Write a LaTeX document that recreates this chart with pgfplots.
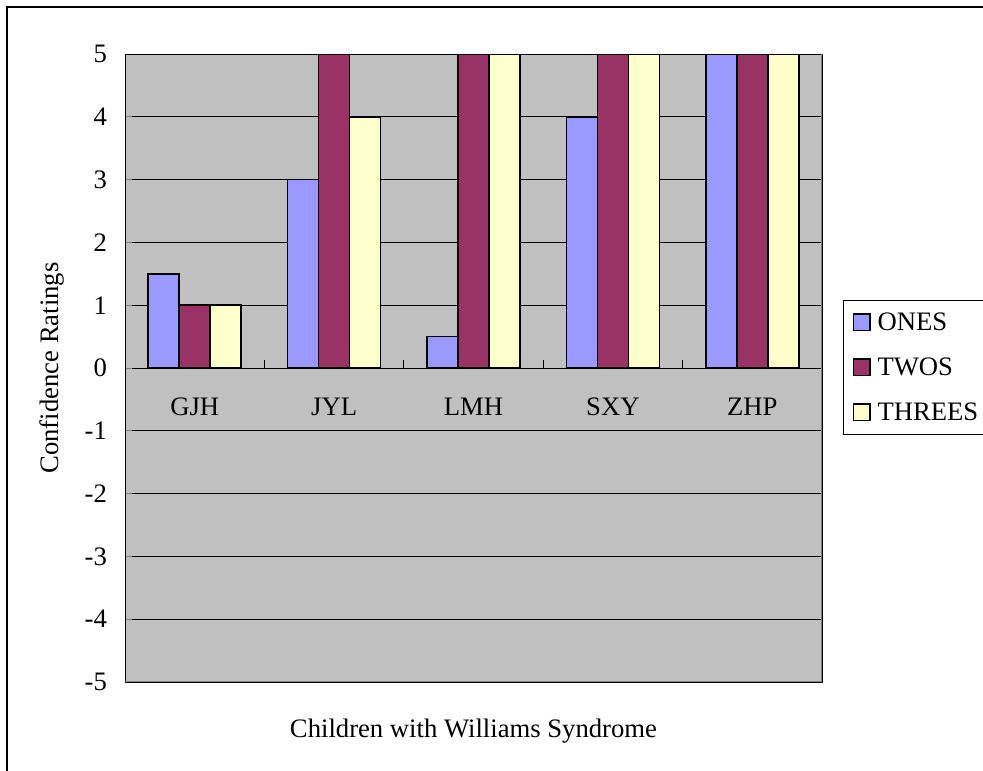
\documentclass[border=0pt]{standalone}
\usepackage{pgfplots}
\pgfplotsset{compat=1.18}
\usepackage{fontspec}
\setmainfont{Liberation Serif}

\definecolor{onesc}{HTML}{9999FF}
\definecolor{twosc}{HTML}{993366}
\definecolor{threesc}{HTML}{FFFFCC}
\definecolor{plotbg}{HTML}{C0C0C0}
\definecolor{edgegray}{HTML}{808080}

\begin{document}
\begin{tikzpicture}
\path[use as bounding box] (-93.75pt,-66.75pt) rectangle (643.5pt,511.5pt);
% outer frame
\draw[black, line width=0.8pt] (-88.5pt,-90pt) rectangle (680pt,506.25pt);
\begin{axis}[
  at={(0,0)}, anchor=south west,
  scale only axis,
  width=522.75pt, height=471pt,
  xmin=-0.5, xmax=4.5,
  ymin=-5, ymax=5,
  ybar=0pt,
  bar width=23.25pt,
  axis background/.style={fill=plotbg},
  axis line style={black, line width=0.6pt},
  font=\fontsize{20}{24}\selectfont,
  xtick={0,1,2,3,4},
  xticklabels={GJH,JYL,LMH,SXY,ZHP},
  xtick style={draw=none},
  xticklabel style={anchor=center, yshift=206.25pt},
  ytick={-5,-4,-3,-2,-1,0,1,2,3,4,5},
  yticklabels={-5,-4,-3,-2,-1,0,1,2,3,4,5},
  ytick pos=left,
  tick align=inside,
  major tick length=5pt,
  ytick style={edgegray, line width=0.6pt},
  yticklabel style={xshift=-10pt},
  ymajorgrids,
  major grid style={black, line width=0.6pt},
  xlabel={Children with Williams Syndrome},
  xlabel style={at={(axis description cs:0.5,-0.078)}, anchor=center},
  ylabel={Confidence Ratings},
  ylabel style={at={(axis description cs:-0.1047,0.5)}, anchor=center},
  legend style={
    at={(axis description cs:1.0301,0.6083)}, anchor=north west,
    draw=black, line width=0.6pt, fill=white,
    font=\fontsize{20}{24}\selectfont,
    row sep=15pt, inner xsep=7pt, inner ysep=7pt,
    legend cell align=left,
  },
  legend image code/.code={
    \draw[#1, draw=black, line width=1.2pt] (0pt,-6.2pt) rectangle (12.5pt,6.2pt);
    \path[draw=none, fill=none] (0pt,0pt) -- (16pt,0pt);
  },
]
\addplot[fill=onesc, draw=black, line width=1.2pt]
  coordinates {(0,1.5) (1,3) (2,0.5) (3,4) (4,5)};
\addplot[fill=twosc, draw=black, line width=1.2pt]
  coordinates {(0,1) (1,5) (2,5) (3,5) (4,5)};
\addplot[fill=threesc, draw=black, line width=1.2pt]
  coordinates {(0,1) (1,4) (2,5) (3,5) (4,5)};
\legend{ONES,TWOS,THREES}
% category separators on the zero line
\pgfplotsinvokeforeach{0.5,1.5,2.5,3.5}{
  \draw[black, line width=0.6pt] (axis cs:#1,0) -- ([yshift=6pt]axis cs:#1,0);
}
% shaded right and bottom edges of the plot area
\draw[edgegray, line width=1.6pt] (rel axis cs:0,0) -- (rel axis cs:1,0) -- (rel axis cs:1,1);
\end{axis}
\end{tikzpicture}
\end{document}
